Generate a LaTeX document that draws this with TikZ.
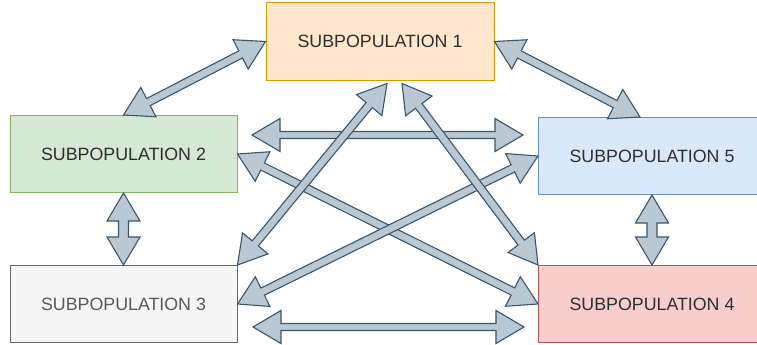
\documentclass[tikz,border=0pt]{standalone}
\usepackage{fontspec}
\setmainfont{Liberation Sans}
\usetikzlibrary{calc}
\definecolor{arrfill}{HTML}{BAC8D3}
\definecolor{arrline}{HTML}{3A566C}
\definecolor{txtc}{HTML}{2E2E2E}
\definecolor{f1}{HTML}{FFE6CC}\definecolor{d1}{HTML}{D79B00}
\definecolor{f2}{HTML}{D5E8D4}\definecolor{d2}{HTML}{82B366}
\definecolor{f3}{HTML}{F5F5F5}\definecolor{d3}{HTML}{666666}
\definecolor{f4}{HTML}{F8CECC}\definecolor{d4}{HTML}{B85450}
\definecolor{f5}{HTML}{DAE8FC}\definecolor{d5}{HTML}{6C8EBF}
\tikzset{
  box/.style={draw, line width=1pt, minimum width=227pt, minimum height=77pt, inner sep=0pt,
    font=\fontsize{17.8}{20}\selectfont, text=txtc},
  flexarrow/.style={fill=arrfill, draw=arrline, line width=1.1pt, line join=miter}
}
\newcommand\flexarr[3][4pt]{%
  \coordinate (faA) at ($(#2)!28pt!(#3)$);
  \coordinate (faB) at ($(#3)!28pt!(#2)$);
  \filldraw[flexarrow] (#2) -- ($(faA)!16.5pt!90:(#3)$) -- ($(faA)!#1!90:(#3)$)
    -- ($(faB)!#1!-90:(#2)$) -- ($(faB)!16.5pt!-90:(#2)$) -- (#3)
    -- ($(faB)!16.5pt!90:(#2)$) -- ($(faB)!#1!90:(#2)$)
    -- ($(faA)!#1!-90:(#3)$) -- ($(faA)!16.5pt!-90:(#3)$) -- cycle;}
\begin{document}
\begin{tikzpicture}[x=1pt,y=-1pt]
\useasboundingbox (0,0) rectangle (757,345);
\clip (0,0) rectangle (757,345);
\node[box, fill=f1, draw=d1, minimum width=228pt] (s1) at (380,41.5) {SUBPOPULATION 1};
\node[box, fill=f2, draw=d2] (s2) at (123.5,154) {SUBPOPULATION 2};
\node[box, fill=f3, draw=d3, text=black!65] (s3) at (123.5,304) {SUBPOPULATION 3};
\node[box, fill=f4, draw=d4] (s4) at (652,304) {SUBPOPULATION 4};
\node[box, fill=f5, draw=d5] (s5) at (652,156) {SUBPOPULATION 5};
% free arrow ends
\coordinate (c15) at ([xshift=-12pt]s5.north);
\coordinate (c13) at ([xshift=7pt,yshift=-3pt]s1.south);
\coordinate (c14) at ([xshift=22pt,yshift=-3pt]s1.south);
\coordinate (c25a) at (252,135);
\coordinate (c25b) at (523,135);
\coordinate (c34a) at (253,327);
\coordinate (c34b) at (524,327);
% arrows
\flexarr{s1.west}{s2.north}
\flexarr{s1.east}{c15}
\flexarr[5pt]{s2.south}{s3.north}
\flexarr[5pt]{s5.south}{s4.north}
\flexarr[3.5pt]{c25a}{c25b}
\flexarr[3.5pt]{c34a}{c34b}
\flexarr{s2.east}{s4.west}
\flexarr{s5.west}{s3.east}
\flexarr{c13}{s3.north east}
\flexarr{c14}{s4.north west}
\end{tikzpicture}
\end{document}
